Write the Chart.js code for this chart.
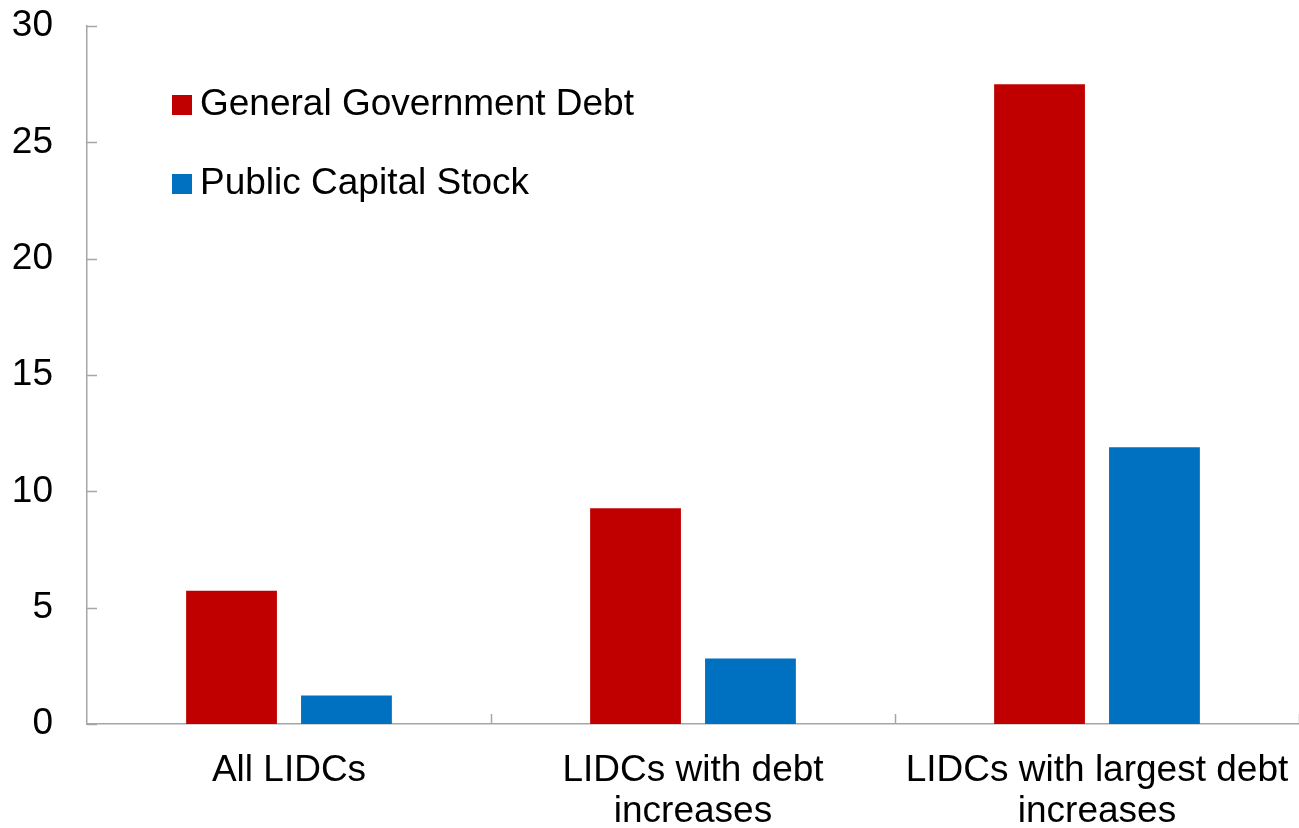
<!DOCTYPE html>
<html>
<head>
<meta charset="utf-8">
<script src="https://cdn.jsdelivr.net/npm/chart.js@4"></script>
<style>
  html, body { margin: 0; padding: 0; background: #fff; overflow: hidden; }
  #wrap { width: 1299px; height: 828px; }
</style>
</head>
<body>
<div id="wrap"><canvas id="debtChart"></canvas></div>
<script>
const categories = [
  "All LIDCs",
  ["LIDCs with debt", "increases"],
  ["LIDCs with largest debt", "increases"],
];
const govDebt = [5.73, 9.27, 27.5];
const capitalStock = [1.22, 2.82, 11.9];
const yTicks = [0, 5, 10, 15, 20, 25, 30];

const axisGrey = "#a6a6a6";
const fontFace = "'Liberation Sans', Arial, sans-serif";

// short tick marks that point into the plot, plus the legend box inside it
const innerTicks = {
  id: "innerTicks",
  afterDraw(chart) {
    const ctx = chart.ctx;
    const area = chart.chartArea;
    const y = chart.scales.y;
    ctx.save();
    ctx.strokeStyle = axisGrey;
    ctx.lineWidth = 1.5;
    ctx.beginPath();
    yTicks.forEach((v) => {
      const py = Math.round(y.getPixelForValue(v)) + 0.5;
      ctx.moveTo(area.left, py);
      ctx.lineTo(area.left + 10, py);
    });
    const step = (area.right - area.left) / categories.length;
    for (let i = 1; i <= categories.length; i++) {
      const px = Math.round(area.left + i * step) + 0.5;
      ctx.moveTo(px, area.bottom);
      ctx.lineTo(px, area.bottom - 10);
    }
    ctx.stroke();

    ctx.font = "37px " + fontFace;
    ctx.textBaseline = "middle";
    chart.data.datasets.forEach((ds, i) => {
      const bx = area.left + 85;
      const by = area.top + 69 + i * 79;
      ctx.fillStyle = ds.backgroundColor;
      ctx.fillRect(bx, by, 20, 20);
      ctx.fillStyle = "#000";
      ctx.fillText(ds.label, bx + 28, by + 10);
    });
    ctx.restore();
  },
};

new Chart(document.getElementById("debtChart"), {
  type: "bar",
  data: {
    labels: categories,
    datasets: [
      {
        label: "General Government Debt",
        data: govDebt,
        backgroundColor: "#c00000",
        categoryPercentage: 0.569,
        barPercentage: 0.79,
      },
      {
        label: "Public Capital Stock",
        data: capitalStock,
        backgroundColor: "#0070c0",
        categoryPercentage: 0.569,
        barPercentage: 0.79,
      },
    ],
  },
  options: {
    responsive: true,
    maintainAspectRatio: false,
    animation: false,
    layout: { padding: { left: 12, top: 26, right: 0, bottom: 0 } },
    plugins: {
      legend: { display: false },
      tooltip: { enabled: false },
    },
    scales: {
      x: {
        afterFit: (scale) => {
          scale.height = 104;
          scale.paddingLeft = 0;
          scale.paddingRight = 0;
        },
        grid: { display: false, drawTicks: false },
        border: { color: axisGrey, width: 1.5 },
        ticks: {
          color: "#000",
          padding: 26,
          maxRotation: 0,
          autoSkip: false,
          font: { family: fontFace, size: 37, lineHeight: 1.12 },
        },
      },
      y: {
        min: 0,
        max: 30,
        afterBuildTicks: (scale) => {
          scale.ticks = yTicks.map((v) => ({ value: v }));
        },
        afterFit: (scale) => {
          scale.width = 75;
          scale.paddingTop = 0;
          scale.paddingBottom = 0;
        },
        grid: { display: false, drawTicks: false },
        border: { color: axisGrey, width: 1.5 },
        ticks: {
          color: "#000",
          padding: 34,
          font: { family: fontFace, size: 37 },
        },
      },
    },
  },
  plugins: [innerTicks],
});
</script>
</body>
</html>
